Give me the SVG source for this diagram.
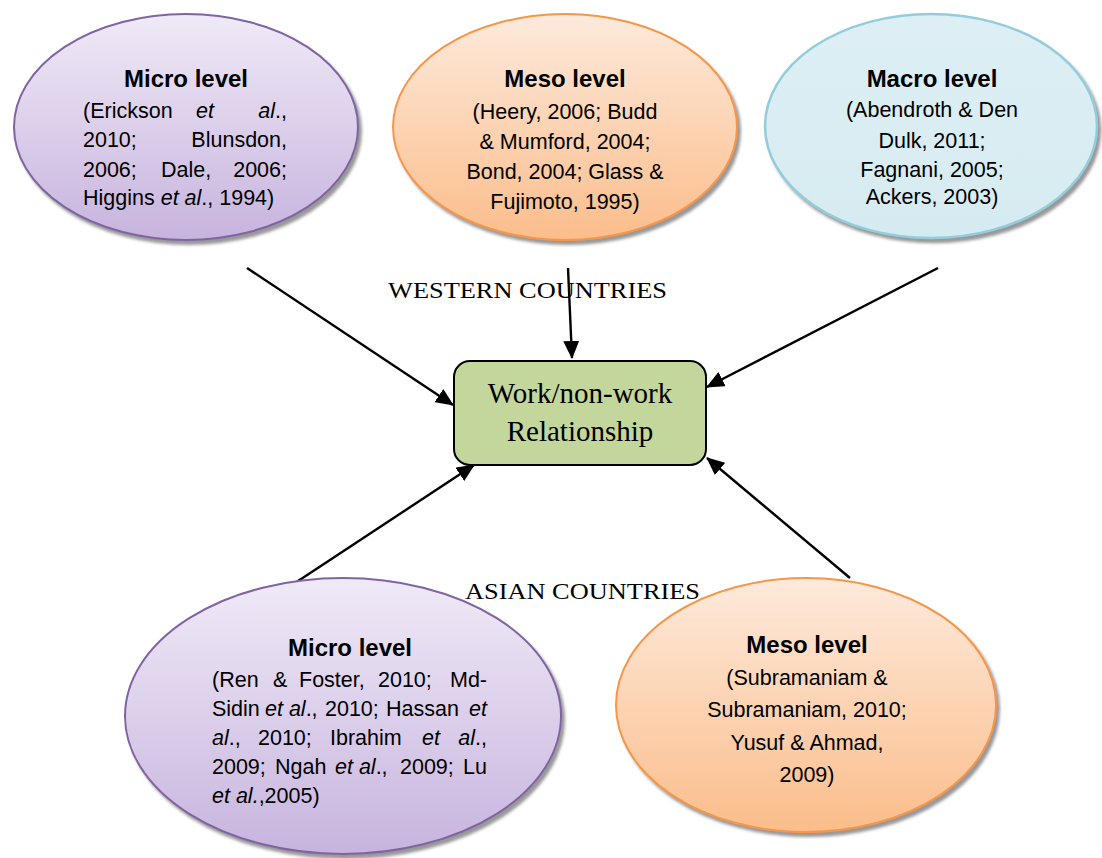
<svg xmlns="http://www.w3.org/2000/svg" width="1102" height="858" viewBox="0 0 1102 858">
  <defs>
    <linearGradient id="gPurple" x1="0" y1="0" x2="0" y2="1">
      <stop offset="0" stop-color="#f0eaf7"/>
      <stop offset="1" stop-color="#c7b4de"/>
    </linearGradient>
    <linearGradient id="gOrange" x1="0" y1="0" x2="0" y2="1">
      <stop offset="0" stop-color="#fdeadc"/>
      <stop offset="1" stop-color="#fbbd8b"/>
    </linearGradient>
    <linearGradient id="gBlue" x1="0" y1="0" x2="0" y2="1">
      <stop offset="0" stop-color="#ddeff4"/>
      <stop offset="1" stop-color="#d6ebf1"/>
    </linearGradient>
    <filter id="shadow" x="-10%" y="-10%" width="125%" height="130%">
      <feDropShadow dx="3" dy="4" stdDeviation="1.5" flood-color="#7f7f7f" flood-opacity="0.8"/>
    </filter>
    <marker id="arrow" markerUnits="userSpaceOnUse" markerWidth="19" markerHeight="16" refX="17" refY="8" orient="auto">
      <path d="M0,0 L18,8 L0,16 z" fill="#000"/>
    </marker>
    <style>
      .purple { fill: url(#gPurple); stroke: #8064a2; stroke-width: 2; filter: url(#shadow); }
      .orange { fill: url(#gOrange); stroke: #f79646; stroke-width: 2; filter: url(#shadow); }
      .blue { fill: url(#gBlue); stroke: #93cddd; stroke-width: 2.5; filter: url(#shadow); }
      .title { font-family: "Liberation Sans", Arial, sans-serif; font-weight: bold; font-size: 24px; fill: #000; text-anchor: middle; }
      .body { font-family: "Liberation Sans", Arial, sans-serif; font-size: 21.5px; fill: #000; }
      .mid { text-anchor: middle; }
      .end { text-anchor: end; }
      .it { font-style: italic; }
      .serif { font-family: "Liberation Serif", "Times New Roman", serif; fill: #000; }
      .conn line { stroke: #000; stroke-width: 2.4; marker-end: url(#arrow); }
    </style>
  </defs>
  <rect width="1102" height="858" fill="#fff"/>

  <g id="connectors" class="conn">
    <line x1="247" y1="268" x2="453" y2="405"/>
    <line x1="568" y1="268" x2="572" y2="358"/>
    <line x1="938" y1="268" x2="707" y2="387"/>
    <line x1="289" y1="587" x2="474" y2="465"/>
    <line x1="850" y1="578" x2="707" y2="458"/>
  </g>

  <g id="western-micro">
    <ellipse class="purple" cx="186" cy="127" rx="172" ry="113"/>
    <text class="title" x="186" y="87">Micro level</text>
    <text class="body" y="118"><tspan x="83">(Erickson</tspan><tspan x="196" class="it">et</tspan></text>
    <text class="body end" x="287" y="118"><tspan class="it">al</tspan>.,</text>
    <text class="body" x="83" y="147">2010;</text>
    <text class="body end" x="287" y="147">Blunsdon,</text>
    <text class="body" y="177"><tspan x="83">2006;</tspan><tspan x="161">Dale,</tspan></text>
    <text class="body end" x="287" y="177">2006;</text>
    <text class="body" x="83" y="205">Higgins <tspan class="it">et al</tspan>., 1994)</text>
  </g>

  <g id="western-meso">
    <ellipse class="orange" cx="565" cy="127" rx="172" ry="113"/>
    <text class="title" x="565" y="87">Meso level</text>
    <text class="body mid" x="565" y="119">(Heery, 2006; Budd</text>
    <text class="body mid" x="565" y="149">&amp; Mumford, 2004;</text>
    <text class="body mid" x="565" y="179">Bond, 2004; Glass &amp;</text>
    <text class="body mid" x="565" y="209">Fujimoto, 1995)</text>
  </g>

  <g id="western-macro">
    <ellipse class="blue" cx="931" cy="126" rx="166" ry="112"/>
    <text class="title" x="932" y="87">Macro level</text>
    <text class="body mid" x="932" y="117">(Abendroth &amp; Den</text>
    <text class="body mid" x="932" y="148">Dulk, 2011;</text>
    <text class="body mid" x="932" y="177">Fagnani, 2005;</text>
    <text class="body mid" x="932" y="204">Ackers, 2003)</text>
  </g>

  <g id="western-label">
    <text class="serif" x="388" y="298" font-size="24" textLength="279" lengthAdjust="spacingAndGlyphs">WESTERN COUNTRIES</text>
  </g>

  <g id="center">
    <rect x="454" y="361" width="252" height="104" rx="16" ry="16" fill="#c3d69b" stroke="#000" stroke-width="2"/>
    <text class="serif" x="580" y="403" font-size="29" text-anchor="middle">Work/non-work</text>
    <text class="serif" x="580" y="441" font-size="29" text-anchor="middle">Relationship</text>
  </g>

  <g id="asian-label">
    <text class="serif" x="465" y="599" font-size="24" textLength="235" lengthAdjust="spacingAndGlyphs">ASIAN COUNTRIES</text>
  </g>

  <g id="asian-micro">
    <ellipse class="purple" cx="343" cy="716" rx="218" ry="138"/>
    <text class="title" x="350" y="656">Micro level</text>
    <text class="body" y="687"><tspan x="212">(Ren</tspan><tspan x="273">&amp;</tspan><tspan x="299">Foster,</tspan><tspan x="378">2010;</tspan></text>
    <text class="body end" x="487" y="687">Md-</text>
    <text class="body" y="716"><tspan x="212">Sidin</tspan><tspan x="265"><tspan class="it">et al</tspan>.,</tspan><tspan x="325">2010;</tspan><tspan x="386">Hassan</tspan></text>
    <text class="body end it" x="487" y="716">et</text>
    <text class="body" y="745"><tspan x="212"><tspan class="it">al</tspan>.,</tspan><tspan x="258">2010;</tspan><tspan x="330">Ibrahim</tspan><tspan x="422" class="it">et</tspan></text>
    <text class="body end" x="487" y="745"><tspan class="it">al</tspan>.,</text>
    <text class="body" y="774"><tspan x="212">2009;</tspan><tspan x="275">Ngah</tspan><tspan x="335"><tspan class="it">et al</tspan>.,</tspan><tspan x="400">2009;</tspan></text>
    <text class="body end" x="487" y="774">Lu</text>
    <text class="body" x="212" y="803"><tspan class="it">et al.</tspan>,2005)</text>
  </g>

  <g id="asian-meso">
    <ellipse class="orange" cx="806" cy="705" rx="190" ry="127"/>
    <text class="title" x="807" y="653">Meso level</text>
    <text class="body mid" x="807" y="685">(Subramaniam &amp;</text>
    <text class="body mid" x="807" y="717">Subramaniam, 2010;</text>
    <text class="body mid" x="807" y="750">Yusuf &amp; Ahmad,</text>
    <text class="body mid" x="807" y="782">2009)</text>
  </g>
</svg>
